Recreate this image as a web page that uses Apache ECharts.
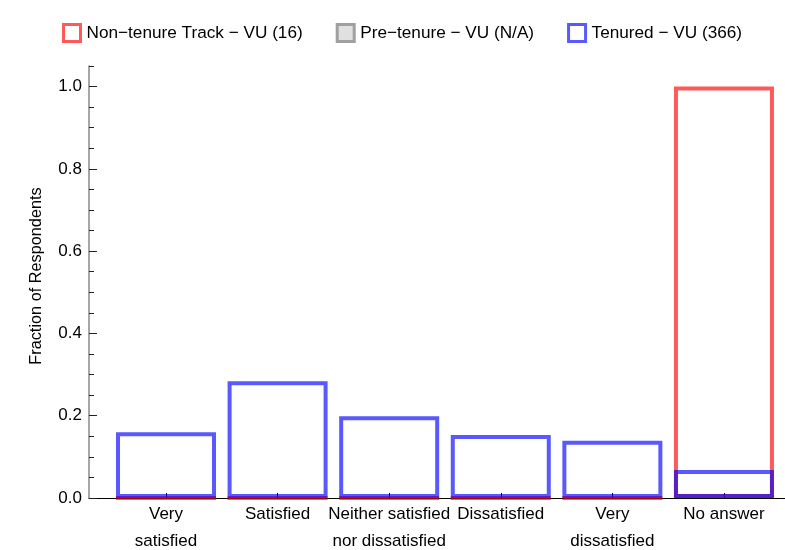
<!DOCTYPE html>
<html><head><meta charset="utf-8">
<script src="https://cdn.jsdelivr.net/npm/echarts@6/dist/echarts.min.js"></script>
<style>html,body{margin:0;padding:0;background:#fff}#c{width:785px;height:550px}</style>
</head><body><div id="c"></div>
<script>
const categories = ['Very\nsatisfied', 'Satisfied', 'Neither satisfied\nnor dissatisfied', 'Dissatisfied', 'Very\ndissatisfied', 'No answer'];
const seriesNames = ['Non\u2212tenure Track \u2212 VU (16)', 'Pre\u2212tenure \u2212 VU (N/A)', 'Tenured \u2212 VU (366)'];
const nonTenure = [0, 0, 0, 0, 0, 1.0];
const preTenure = [];
const tenured = [0.16, 0.284, 0.199, 0.153, 0.139, 0.068];
const yMajorTicks = [0, 0.2, 0.4, 0.6, 0.8, 1.0];
const yMinorStep = 0.05;
const yTitle = 'Fraction of Respondents';

const positions = categories.map((c, i) => i + 1);
const FONT = '"Liberation Sans", Arial, sans-serif';
const RED = 'rgba(255,0,0,0.65)';
const BLUE = 'rgba(0,0,255,0.65)';
const GRAY = 'rgba(110,110,110,0.65)';

function barSeries(name, vals, color) {
  return {
    name: name, type: 'bar', yAxisIndex: 0,
    data: vals.map((v, i) => [positions[i], v]),
    barWidth: 100, barGap: '-100%',
    itemStyle: { color: 'rgba(0,0,0,0)', borderColor: color, borderWidth: 4 },
    emphasis: { disabled: true }
  };
}

const chart = echarts.init(document.getElementById('c'), null, { renderer: 'canvas' });
chart.setOption({
  animation: false,
  textStyle: { fontFamily: FONT },
  legend: {
    top: 18, left: 57, itemWidth: 17, itemHeight: 17, itemGap: 33,
    textStyle: { fontSize: 17.2, color: '#000', fontFamily: FONT, padding: [0, 0, 0, 1] },
    selectedMode: false,
    data: [
      { name: seriesNames[0], icon: 'rect', itemStyle: { color: '#fff', borderColor: RED, borderWidth: 3 } },
      { name: seriesNames[1], icon: 'rect', itemStyle: { color: '#e0e0e0', borderColor: '#a0a0a0', borderWidth: 3 } },
      { name: seriesNames[2], icon: 'rect', itemStyle: { color: '#fff', borderColor: BLUE, borderWidth: 3 } }
    ]
  },
  grid: { left: 89, right: 0, top: 66, bottom: 52, containLabel: false, outerBoundsMode: 'none' },
  xAxis: {
    type: 'value', min: 0.31, max: 6.547,
    axisLine: { show: true, lineStyle: { color: '#000', width: 1 } },
    axisTick: { show: true, customValues: positions, inside: true, length: 5, lineStyle: { color: '#000' } },
    axisLabel: { customValues: positions, formatter: v => categories[Math.round(v) - 1], fontSize: 17, lineHeight: 27, margin: 3, color: '#000', fontFamily: FONT },
    splitLine: { show: false }
  },
  yAxis: [
    {
      type: 'value', min: 0, max: 1.05, interval: yMinorStep,
      axisLine: { show: true, lineStyle: { color: '#888', width: 1.5 } },
      axisTick: { show: true, inside: true, length: 5, lineStyle: { color: '#222' } },
      axisLabel: { show: false },
      splitLine: { show: false },
      name: yTitle, nameLocation: 'middle', nameGap: 44,
      nameTextStyle: { fontSize: 16.3, color: '#000', fontFamily: FONT, padding: [0, 0, 0, 12] }
    },
    {
      type: 'value', min: 0, max: 1.05, position: 'left',
      axisLine: { show: false },
      axisTick: { show: true, customValues: yMajorTicks, inside: true, length: 8, lineStyle: { color: '#222' } },
      axisLabel: { customValues: yMajorTicks, formatter: v => v.toFixed(1), fontSize: 17, margin: 7, color: '#000', fontFamily: FONT },
      splitLine: { show: false }
    }
  ],
  series: [
    barSeries(seriesNames[0], nonTenure, RED),
    barSeries(seriesNames[1], preTenure, GRAY),
    barSeries(seriesNames[2], tenured, BLUE)
  ]
});
</script>
</body></html>
